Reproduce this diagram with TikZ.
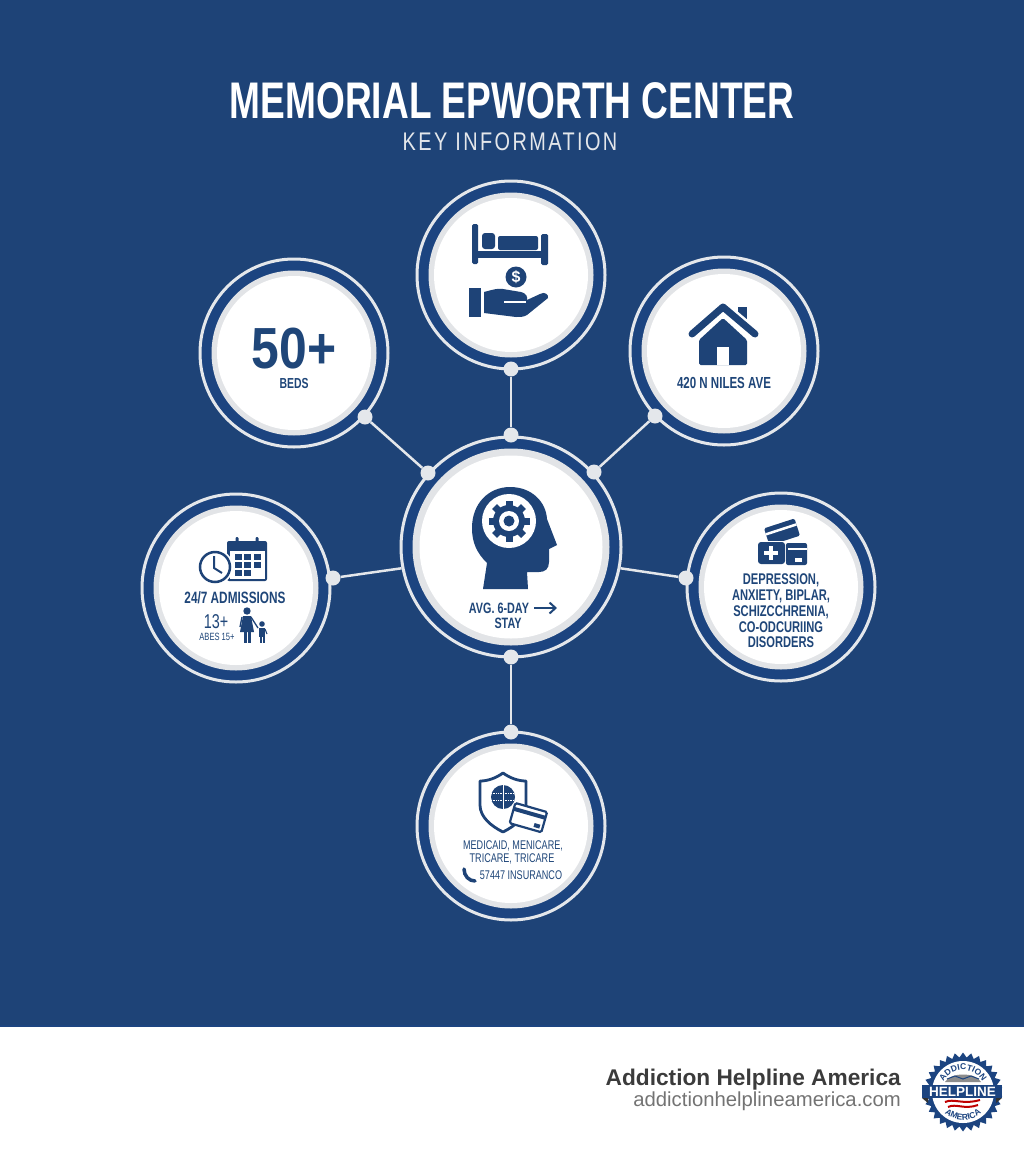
\documentclass[tikz,border=0pt]{standalone}
\usepackage{fontspec}
\usetikzlibrary{arrows.meta,shapes.geometric,decorations.text}
\newfontfamily\condfont[FakeStretch=0.72]{Liberation Sans}
\newfontfamily\widefont[FakeStretch=0.86]{Liberation Sans}
\newfontfamily\spacedfont[FakeStretch=0.78,LetterSpace=9.5]{Liberation Sans}
\newfontfamily\plainfont{Liberation Sans}
\definecolor{navy}{HTML}{1E4377}
\definecolor{band}{HTML}{1C4480}
\definecolor{ringline}{HTML}{E4E7EB}
\definecolor{diskgray}{HTML}{E2E4E7}
\definecolor{ink}{HTML}{1F4679}
\tikzset{
  ringnode/.style={circle,draw=ringline,line width=3pt,fill=band,inner sep=0pt},
  graynode/.style={circle,fill=diskgray,inner sep=0pt},
  whitenode/.style={circle,fill=white,inner sep=0pt},
  dotnode/.style={circle,fill=ringline,minimum size=15pt,inner sep=0pt},
  link/.style={draw=ringline,line width=2.5pt},
  captionsmall/.style={text=ink,align=center,font=\condfont\fontsize{13}{15.5}\selectfont},
}

\begin{document}
\begin{tikzpicture}[x=1pt,y=-1pt]
\useasboundingbox (0,0) rectangle (1024,1154) ;

%backdrop
\fill [navy] (0,0) rectangle (1024,1026) ;
\fill [band] (0,1025) rectangle (1024,1027) ;

%heading
\node [text=white,font=\condfont\bfseries\fontsize{51.5}{60}\selectfont] (heading) at (512,101) {MEMORIAL EPWORTH CENTER} ;
\node [text=ringline,font=\spacedfont\fontsize{25.5}{30}\selectfont] (subheading) at (510,142) {KEY INFORMATION} ;

%rings
\node [ringnode,minimum size=220pt] (hub) at (511,547) {} ;
\node [ringnode,minimum size=188pt] (bedring) at (511,275) {} ;
\node [ringnode,minimum size=188pt] (bedsring) at (294,353) {} ;
\node [ringnode,minimum size=188pt] (housering) at (724,351) {} ;
\node [ringnode,minimum size=188pt] (admitring) at (236,588) {} ;
\node [ringnode,minimum size=188pt] (carering) at (781,587) {} ;
\node [ringnode,minimum size=188pt] (payring) at (511,826) {} ;

\node [graynode,minimum size=197pt] at (511,547) {} ;
\node [whitenode,minimum size=183pt] at (511,547) {} ;
\node [graynode,minimum size=165pt] at (511,275) {} ;
\node [whitenode,minimum size=154pt] at (511,275) {} ;
\node [graynode,minimum size=165pt] at (294,353) {} ;
\node [whitenode,minimum size=154pt] at (294,353) {} ;
\node [graynode,minimum size=165pt] at (724,351) {} ;
\node [whitenode,minimum size=154pt] at (724,351) {} ;
\node [graynode,minimum size=165pt] at (236,588) {} ;
\node [whitenode,minimum size=154pt] at (236,588) {} ;
\node [graynode,minimum size=165pt] at (781,587) {} ;
\node [whitenode,minimum size=154pt] at (781,587) {} ;
\node [graynode,minimum size=165pt] at (511,826) {} ;
\node [whitenode,minimum size=154pt] at (511,826) {} ;

%dots
\node [dotnode] (dottop) at (511,369) {} ;
\node [dotnode] (dothubtop) at (511,435) {} ;
\node [dotnode] (dotbeds) at (365,417) {} ;
\node [dotnode] (dothubleft) at (428,473) {} ;
\node [dotnode] (dothouse) at (655,416) {} ;
\node [dotnode] (dothubright) at (594,472) {} ;
\node [dotnode] (dotadmit) at (333,578) {} ;
\node [dotnode] (dotcare) at (686,578) {} ;
\node [dotnode] (dothubdown) at (511,657) {} ;
\node [dotnode] (dotpay) at (511,732) {} ;

%connectors
\draw [link] (dottop) -- (dothubtop) ;
\draw [link] (dotbeds) -- (dothubleft) ;
\draw [link] (dothouse) -- (dothubright) ;
\draw [link] (dotadmit) -- (hub.191) ;
\draw [link] (dotcare) -- (hub.-11) ;
\draw [link] (dothubdown) -- (dotpay) ;

%head with gear
\fill [navy] (483,589) -- (487,563) .. controls (477,553) and (472,543) .. (472,528)
  .. controls (472,503) and (489,487) .. (510,487) .. controls (532,487) and (546,502) .. (547,519)
  -- (557,545) -- (549,549) -- (549,562) .. controls (549,569) and (545,572) .. (539,572)
  -- (527,572) -- (528,589) -- cycle ;
\fill [white] (509,521) circle [radius=27pt] ;
\foreach \ang in {0,45,...,315} {
  \fill [navy,rotate around={\ang:(509,521)}] (505.5,500.5) rectangle (512.5,510) ;
}
\fill [navy] (509,521) circle [radius=16pt] ;
\fill [white] (509,521) circle [radius=10pt] ;
\fill [navy] (509,521) circle [radius=5.5pt] ;

%hub caption
\node [captionsmall,font=\condfont\bfseries\fontsize{15}{17}\selectfont] (hubtext) at (499,608) {AVG. 6-DAY} ;
\node [captionsmall,font=\condfont\bfseries\fontsize{15}{17}\selectfont] (staytext) at (508,623) {STAY} ;
\coordinate (arrowstart) at (534,608) ;
\coordinate (arrowend) at (557,608) ;
\draw [ink,line width=2pt,-{Straight Barb[length=6pt,width=11pt]}] (arrowstart) -- (arrowend) ;

%bed
\fill [navy,rounded corners=1.5pt] (472,224) rectangle (478,264) ;
\fill [navy,rounded corners=1.5pt] (541,234) rectangle (548,265) ;
\fill [navy] (475,251) rectangle (545,258) ;
\fill [navy,rounded corners=3pt] (482,233) rectangle (495,249) ;
\fill [navy,rounded corners=2pt] (498,236) rectangle (538,250) ;

%coin and hand
\fill [navy] (516,277) circle [radius=10.5pt] ;
\node [text=white,font=\plainfont\bfseries\fontsize{16}{16}\selectfont] (coin) at (516,277) {\$} ;
\fill [navy] (469,288) rectangle (481,317) ;
\fill [navy] (484,292) .. controls (492,290) and (497,288) .. (503,289) -- (521,292)
  .. controls (526,293) and (528,297) .. (527,300) -- (540,294) .. controls (545,291) and (549,295) .. (548,298)
  -- (527,315) .. controls (524,317) and (520,317) .. (516,317) -- (484,313) -- cycle ;
\draw [white,line width=1.5pt] (504,302) -- (526,302) ;

%beds count
\node [text=ink,font=\widefont\bfseries\fontsize{58}{60}\selectfont] (bedcount) at (294,349) {50+} ;
\node [captionsmall,font=\condfont\bfseries\fontsize{14.5}{16}\selectfont] (bedlabel) at (294,384) {BEDS} ;

%house
\fill [navy] (738,307) rectangle (747,325) ;
\draw [white,line width=12pt,line cap=round,line join=round] (692,334) -- (723,307) -- (755,334) ;
\draw [navy,line width=7pt,line cap=round,line join=round] (692,334) -- (723,307) -- (755,334) ;
\fill [navy,rounded corners=1.5pt] (699,340) -- (723,318) -- (747,340) -- (747,365) -- (699,365) -- cycle ;
\fill [white] (717,347) rectangle (729,365) ;
\node [captionsmall,font=\condfont\bfseries\fontsize{16}{18}\selectfont] (houselabel) at (724,383) {420 N NILES AVE} ;

%calendar and clock
\fill [navy,rounded corners=2pt] (227,541) rectangle (267,581) ;
\fill [white] (229.5,551) rectangle (264.5,578.5) ;
\fill [navy,rounded corners=1pt] (235.5,537) rectangle (238.5,544) ;
\fill [navy,rounded corners=1pt] (255.5,537) rectangle (258.5,544) ;
\foreach \col in {235,244,254} {
  \foreach \row in {554,562} {
    \fill [navy] (\col,\row) rectangle +(7,5.5) ;
  }
}
\fill [navy] (235,570) rectangle +(7,5.5) ;
\fill [navy] (244,570) rectangle +(7,5.5) ;
\fill [white] (215,567) circle [radius=18pt] ;
\draw [navy,line width=2.5pt] (215,567) circle [radius=15pt] ;
\draw [navy,line width=2pt] (214,556) -- (214,568) -- (222,573) ;

%admissions text
\node [captionsmall,font=\condfont\bfseries\fontsize{16.4}{18}\selectfont] (admitlabel) at (235,598) {24/7 ADMISSIONS} ;
\node [captionsmall,font=\condfont\fontsize{20}{22}\selectfont] (agenum) at (216,622) {13+} ;
\node [captionsmall,font=\condfont\fontsize{10.5}{12}\selectfont] (agetext) at (217,637) {ABES 15+} ;

%figures
\fill [navy] (247,611) circle [radius=3.7pt] ;
\fill [navy] (243,616) -- (251,616) -- (254,632) -- (240,632) -- cycle ;
\fill [navy] (244,632) rectangle (247,643) ;
\fill [navy] (248,632) rectangle (251,643) ;
\draw [navy,line width=1.3pt] (242,617) -- (240,627) ;
\draw [navy,line width=1.3pt] (251,617) -- (258,628) ;
\fill [navy] (262,624) circle [radius=2.8pt] ;
\fill [navy] (259,628) rectangle (265,637) ;
\fill [navy] (259.5,637) rectangle (261.5,643) ;
\fill [navy] (262.5,637) rectangle (264.5,643) ;
\draw [navy,line width=1.1pt] (265,629) -- (267,634) ;

%kit and cards
\fill [navy,rotate around={18:(782,532)},rounded corners=1.5pt] (766,523) rectangle (798,541) ;
\fill [white,rotate around={18:(782,532)}] (766,528) rectangle (798,530.5) ;
\fill [white] (756,541) rectangle (809,567) ;
\fill [navy,rounded corners=3pt] (758,542) rectangle (785,564) ;
\fill [white] (769,546) rectangle (773,560) ;
\fill [white] (764,551) rectangle (778,555) ;
\fill [navy,rounded corners=2pt] (786,543) rectangle (807,565) ;
\fill [white] (788,548) rectangle (807,549.5) ;
\fill [white] (795,558) rectangle (802,561.5) ;

%conditions text
\node [captionsmall,font=\condfont\bfseries\fontsize{15.5}{15.7}\selectfont] (caretext) at (781,611) {DEPRESSION,\\ANXIETY, BIPLAR,\\SCHIZCCHRENIA,\\CO-ODCURIING\\DISORDERS} ;

%shield
\draw [navy,line width=2.8pt,fill=white,line join=round] (503,773) .. controls (496,778) and (488,781) .. (480,781)
  -- (480,805) .. controls (480,817) and (491,826) .. (503,832)
  .. controls (515,826) and (526,817) .. (526,805) -- (526,781) .. controls (518,781) and (510,778) .. (503,773) -- cycle ;
\fill [navy] (503,797) circle [radius=12pt] ;
\draw [white,line width=1pt] (503,785) -- (503,809) ;
\draw [white,line width=.7pt,densely dotted] (491,793) -- (515,793) ;
\draw [white,line width=.7pt,densely dotted] (491,800) -- (515,800) ;

%insurance card
\draw [navy,line width=2.2pt,fill=white,rounded corners=1.5pt,rotate around={-16:(528,817)}] (512,807) rectangle (545,828) ;
\fill [navy,rotate around={-16:(528,817)}] (512,811) rectangle (545,815) ;
\fill [navy,rotate around={-16:(528,817)}] (536,821) rectangle (542,825) ;

%insurance text
\node [captionsmall,font=\condfont\fontsize{12.6}{14}\selectfont] (paytext) at (513,846) {MEDICAID, MENICARE,} ;
\node [captionsmall,font=\condfont\fontsize{12.6}{14}\selectfont] (paytexttwo) at (512,859) {TRICARE, TRICARE} ;
\node [captionsmall,font=\condfont\fontsize{12.6}{14}\selectfont] (paytextthree) at (521,875) {57447 INSURANCO} ;
\draw [navy,line width=3.5pt,line cap=round] (464,869) .. controls (464,876) and (469,881) .. (475,881) ;

%footer text
\node [anchor=east,inner sep=0pt,text=black!77,font=\plainfont\bfseries\fontsize{22.7}{26}\selectfont] (brand) at (901,1079.5) {Addiction Helpline America} ;
\node [anchor=east,inner sep=0pt,text=black!55,font=\plainfont\fontsize{20.3}{22}\selectfont] (brandurl) at (901,1101.5) {addictionhelplineamerica.com} ;

%badge
\node [star,star points=30,star point ratio=1.14,minimum size=79pt,inner sep=0pt,fill=band] (badge) at (963,1092) {} ;
\node [circle,fill=white,minimum size=62pt,inner sep=0pt] (badgedisk) at (963,1092) {} ;
\fill [black!45] (945,1082) .. controls (950,1072) and (976,1072) .. (981,1082) -- cycle ;
\draw [band,line width=1pt] (947,1079) -- (955,1076) -- (963,1079) -- (971,1076) -- (979,1079) ;
\draw [red!75!black,line width=2pt] (945,1102) .. controls (954,1098) and (962,1105) .. (980,1100) ;
\draw [red!75!black,line width=2pt] (948,1107) .. controls (956,1103) and (964,1110) .. (978,1105) ;
\fill [band] (922,1085) rectangle (1002,1098) ;
\fill [black!80] (922,1098) -- (928,1098) -- (928,1103) -- cycle ;
\fill [black!80] (1002,1098) -- (996,1098) -- (996,1103) -- cycle ;
\node [text=white,font=\plainfont\bfseries\fontsize{13.5}{14}\selectfont] (helpline) at (962.5,1091.5) {HELPLINE} ;
\path [decorate,decoration={text along path,text align=center,text={|\plainfont\bfseries\fontsize{8.5}{10}\selectfont\color{band}|ADDICTION}}] (941.3,1095.8) arc [start angle=190,end angle=-10,radius=22pt] ;
\path [decorate,decoration={text along path,text align=center,text={|\plainfont\bfseries\fontsize{8.5}{10}\selectfont\color{band}|AMERICA}}] (936.7,1101.6) arc [start angle=200,end angle=340,radius=28pt] ;

\end{tikzpicture}
\end{document}
